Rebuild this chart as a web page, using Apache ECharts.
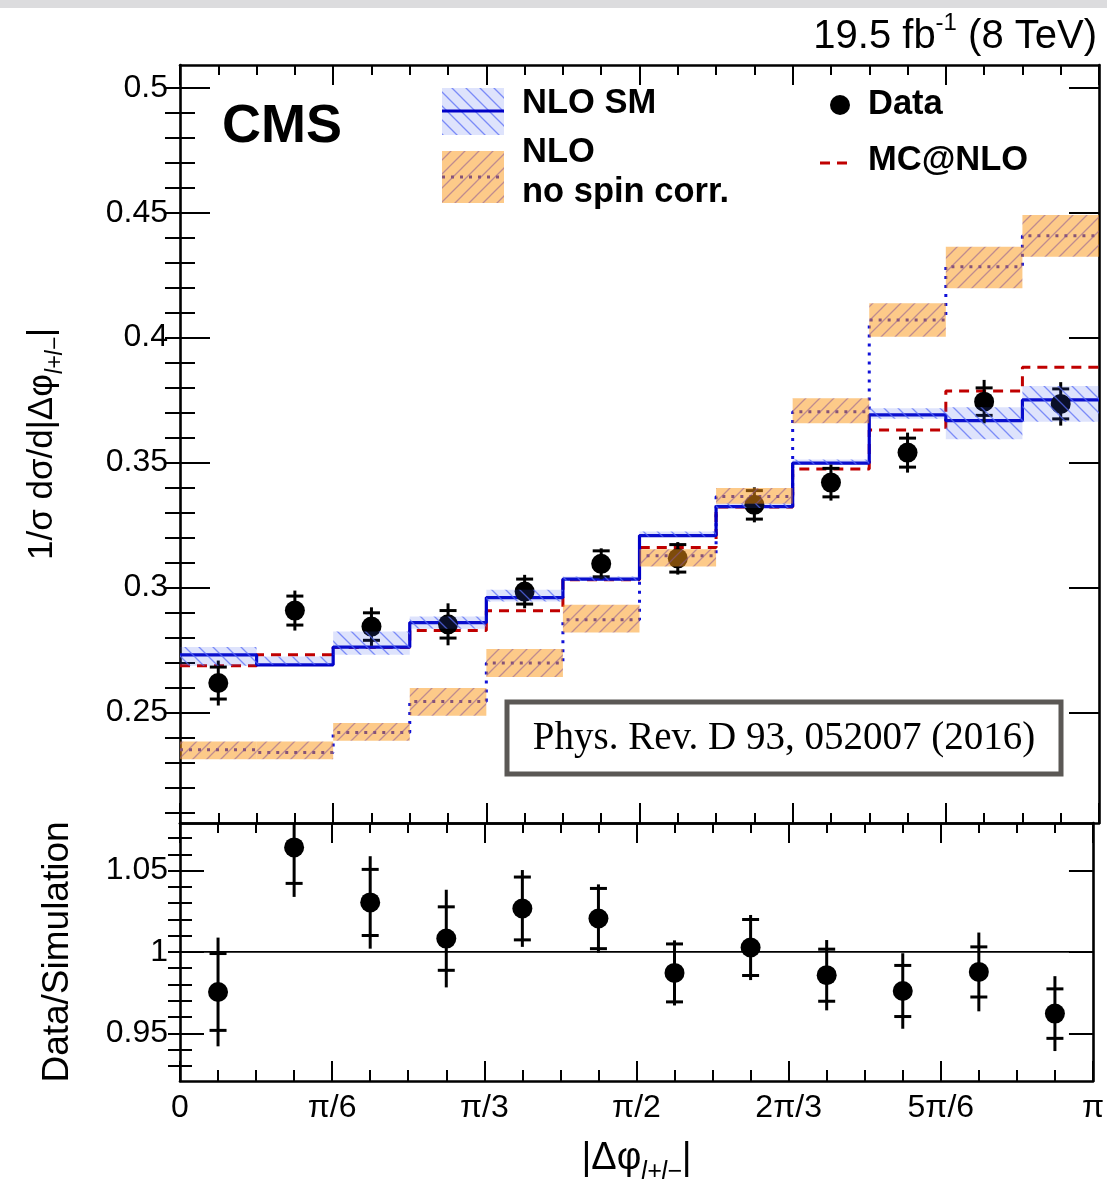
<!DOCTYPE html>
<html><head><meta charset="utf-8">
<script src="https://cdn.jsdelivr.net/npm/echarts@6/dist/echarts.min.js"></script>
<style>html,body{margin:0;padding:0;background:#fff}#c{width:1107px;height:1191px}</style>
</head><body><div id="c"></div>
<script>
const PI = Math.PI;
// bin edges of |Δφ|
const binEdges = [0, PI/12, PI/6, PI/4, PI/3, 5*PI/12, PI/2, 7*PI/12, 2*PI/3, 3*PI/4, 5*PI/6, 11*PI/12, PI];
const xTickLabels = ['0', 'π/6', 'π/3', 'π/2', '2π/3', '5π/6', 'π'];
const yTopTickLabels = ['0.25', '0.3', '0.35', '0.4', '0.45', '0.5'];
const yRatioTickLabels = ['0.95', '1', '1.05'];

// NLO SM (with band)
const nloSM   = [0.2731, 0.2691, 0.2762, 0.2860, 0.2960, 0.3034, 0.3208, 0.3324, 0.3498, 0.3691, 0.3668, 0.3751];
const nloSMLo = [0.2687, 0.2691, 0.2731, 0.2835, 0.2944, 0.3026, 0.3203, 0.3318, 0.3492, 0.3676, 0.3594, 0.3664];
const nloSMHi = [0.2762, 0.2724, 0.2824, 0.2884, 0.2991, 0.3044, 0.3224, 0.3336, 0.3512, 0.3718, 0.3722, 0.3807];
// NLO no spin correlation (with band)
const noSpin   = [0.2351, 0.2340, 0.2420, 0.2544, 0.2698, 0.2871, 0.3127, 0.3364, 0.3704, 0.4071, 0.4284, 0.4408];
const noSpinLo = [0.2313, 0.2313, 0.2387, 0.2487, 0.2642, 0.2820, 0.3084, 0.3335, 0.3658, 0.4004, 0.4198, 0.4324];
const noSpinHi = [0.2384, 0.2384, 0.2458, 0.2598, 0.2754, 0.2931, 0.3153, 0.3398, 0.3758, 0.4138, 0.4364, 0.4491];
// MC@NLO
const mcnlo = [0.2687, 0.2731, 0.2760, 0.2828, 0.2907, 0.3031, 0.3160, 0.3322, 0.3474, 0.3631, 0.3787, 0.3882];
// Data
const dataVal  = [0.2618, 0.2908, 0.2844, 0.2853, 0.2984, 0.3095, 0.3117, 0.3331, 0.3420, 0.3540, 0.3744, 0.3735];
const dataStat = [0.0064, 0.0058, 0.0055, 0.0055, 0.0050, 0.0052, 0.0055, 0.0057, 0.0057, 0.0058, 0.0055, 0.0060];
const dataTot  = [0.0090, 0.0080, 0.0077, 0.0084, 0.0067, 0.0062, 0.0065, 0.0070, 0.0072, 0.0080, 0.0087, 0.0087];
// Data / Simulation
const ratioVal  = [0.9754, 1.0642, 1.0304, 1.0082, 1.0267, 1.0205, 0.9871, 1.0027, 0.9857, 0.9760, 0.9877, 0.9621];
const ratioStat = [0.0236, 0.0221, 0.0203, 0.0195, 0.0193, 0.0185, 0.0178, 0.0172, 0.0160, 0.0157, 0.0154, 0.0152];
const ratioTot  = [0.0334, 0.0304, 0.0284, 0.0300, 0.0236, 0.0210, 0.0200, 0.0200, 0.0216, 0.0232, 0.0242, 0.0230];

const FONT = '"Liberation Sans", Arial, Helvetica, sans-serif';

function hatch(bg, line, dir, s) {
  const c = document.createElement('canvas');
  c.width = s; c.height = s;
  const g = c.getContext('2d');
  g.fillStyle = bg; g.fillRect(0, 0, s, s);
  g.strokeStyle = line; g.lineWidth = 1.3;
  g.beginPath();
  if (dir === '/') {
    g.moveTo(-2, s + 2); g.lineTo(s + 2, -2);
    g.moveTo(-2, 2); g.lineTo(2, -2);
    g.moveTo(s - 2, s + 2); g.lineTo(s + 2, s - 2);
  } else {
    g.moveTo(-2, -2); g.lineTo(s + 2, s + 2);
    g.moveTo(s - 2, -2); g.lineTo(s + 2, 2);
    g.moveTo(-2, s - 2); g.lineTo(2, s + 2);
  }
  g.stroke();
  return { image: c, repeat: 'repeat' };
}
const bluePat = hatch('rgba(60,90,240,0.17)', 'rgba(90,110,245,0.75)', '\\', 14);
const orangePat = hatch('rgba(252,150,20,0.5)', 'rgba(140,90,150,0.55)', '/', 14);

const centers = dataVal.map((_, i) => (binEdges[i] + binEdges[i + 1]) / 2);
function stepData(vals) {
  const d = vals.map((v, i) => [binEdges[i], v]);
  d.push([binEdges[vals.length], vals[vals.length - 1]]);
  return d;
}
function bandData(lo, hi) { return lo.map((l, i) => [binEdges[i], binEdges[i + 1], l, hi[i]]); }
function errData(v, st, tot) { return v.map((x, i) => [centers[i], x, x - st[i], x + st[i], x - tot[i], x + tot[i]]); }

function renderBand(pattern) {
  return function (params, api) {
    const p0 = api.coord([api.value(0), api.value(3)]);
    const p1 = api.coord([api.value(1), api.value(2)]);
    return { type: 'rect', shape: { x: p0[0], y: p0[1], width: p1[0] - p0[0], height: p1[1] - p0[1] },
      style: { fill: pattern } };
  };
}
function renderErr(params, api) {
  const x = api.value(0);
  const a = api.coord([x, api.value(4)]), b = api.coord([x, api.value(5)]);
  const sl = api.coord([x, api.value(2)]), sh = api.coord([x, api.value(3)]);
  const w = 8.5, st = { stroke: '#000', lineWidth: 3 };
  return { type: 'group', children: [
    { type: 'line', shape: { x1: a[0], y1: a[1], x2: b[0], y2: b[1] }, style: st },
    { type: 'line', shape: { x1: sl[0] - w, y1: sl[1], x2: sl[0] + w, y2: sl[1] }, style: st },
    { type: 'line', shape: { x1: sh[0] - w, y1: sh[1], x2: sh[0] + w, y2: sh[1] }, style: st }
  ] };
}

const xMajor = xTickLabels.map((_, k) => k * PI / 6);
const xMinor = []; for (let k = 0; k <= 24; k++) xMinor.push(k * PI / 24);
const yTopMajor = yTopTickLabels.map(parseFloat);
const yTopMinor = []; for (let k = 21; k <= 50; k++) yTopMinor.push(k / 100);
const yRatMajor = yRatioTickLabels.map(parseFloat);
const yRatMinor = []; for (let k = 93; k <= 107; k++) yRatMinor.push(k / 100);

const axLine = { show: true, onZero: false, lineStyle: { color: '#000', width: 2.6 } };
function xAx(grid, pos, ticks, len, line, labels, extra) {
  return Object.assign({
    type: 'value', gridIndex: grid, position: pos, min: 0, max: PI,
    axisLine: line ? axLine : { show: false },
    axisTick: { show: true, inside: true, length: len, customValues: ticks, lineStyle: { color: '#000', width: 2 } },
    axisLabel: labels ? { show: true, customValues: xMajor, margin: 11, color: '#000', fontSize: 32, fontFamily: FONT,
      showMinLabel: true, showMaxLabel: true,
      formatter: v => xTickLabels[Math.round(v / (PI / 6))] } : { show: false },
    splitLine: { show: false }
  }, extra || {});
}
function yAx(grid, pos, min, max, ticks, len, line, labVals, labTexts, extra) {
  return Object.assign({
    type: 'value', gridIndex: grid, position: pos, min: min, max: max,
    axisLine: line ? axLine : { show: false },
    axisTick: { show: true, inside: true, length: len, customValues: ticks, lineStyle: { color: '#000', width: 2 } },
    axisLabel: labVals ? { show: true, customValues: labVals, margin: 12, color: '#000', fontSize: 32, fontFamily: FONT,
      showMinLabel: true, showMaxLabel: true,
      formatter: v => { const i = labVals.findIndex(q => Math.abs(q - v) < 1e-6); return i >= 0 ? labTexts[i] : ''; } } : { show: false },
    splitLine: { show: false }
  }, extra || {});
}

const yTopMin = 0.2058, yTopMax = 0.5091, yRatMin = 0.9207, yRatMax = 1.0792;
const subRichY = {
  a: { fontSize: 35, fontFamily: FONT, color: '#000', lineHeight: 50 },
  s: { fontSize: 23, fontFamily: FONT, fontStyle: 'italic', color: '#000', lineHeight: 50, verticalAlign: 'bottom' }
};
const subRichX = {
  a: { fontSize: 38, fontFamily: FONT, color: '#000', lineHeight: 52 },
  s: { fontSize: 25, fontFamily: FONT, fontStyle: 'italic', color: '#000', lineHeight: 52, verticalAlign: 'bottom' }
};

const option = {
  animation: false,
  backgroundColor: '#fff',
  grid: [
    { left: 180, top: 65, width: 919, height: 758 },
    { left: 180, top: 823, width: 919, height: 258 }
  ],
  xAxis: [
    xAx(0, 'bottom', xMajor, 20, true, false),
    xAx(0, 'bottom', xMinor, 10, false, false),
    xAx(0, 'top', xMajor, 20, true, false),
    xAx(0, 'top', xMinor, 10, false, false),
    xAx(1, 'bottom', xMajor, 20, true, true, {
      name: '{a||Δφ}{s|l+l−}{a||}', nameLocation: 'middle', nameGap: 52,
      nameTextStyle: { rich: subRichX } }),
    xAx(1, 'bottom', xMinor, 11, false, false),
    xAx(1, 'top', xMajor, 20, true, false),
    xAx(1, 'top', xMinor, 10, false, false)
  ],
  yAxis: [
    yAx(0, 'left', yTopMin, yTopMax, yTopMajor, 30, true, yTopMajor, yTopTickLabels, {
      name: '{a|1/σ dσ/d|Δφ}{s|l+l−}{a||}', nameLocation: 'middle', nameRotate: 90, nameGap: 113,
      nameTextStyle: { rich: subRichY } }),
    yAx(0, 'left', yTopMin, yTopMax, yTopMinor, 15, false),
    yAx(0, 'right', yTopMin, yTopMax, yTopMajor, 30, true),
    yAx(0, 'right', yTopMin, yTopMax, yTopMinor, 15, false),
    yAx(1, 'left', yRatMin, yRatMax, yRatMajor, 24, true, yRatMajor, yRatioTickLabels, {
      name: 'Data/Simulation', nameLocation: 'middle', nameRotate: 90, nameGap: 104,
      nameTextStyle: { fontSize: 37, fontFamily: FONT, color: '#000' } }),
    yAx(1, 'left', yRatMin, yRatMax, yRatMinor, 12, false),
    yAx(1, 'right', yRatMin, yRatMax, yRatMajor, 24, true),
    yAx(1, 'right', yRatMin, yRatMax, yRatMinor, 12, false)
  ],
  series: [
    { name: 'NLO no spin corr. line', type: 'line', xAxisIndex: 0, yAxisIndex: 0, step: 'end', symbol: 'none',
      data: stepData(noSpin), lineStyle: { color: '#1010d8', width: 3, type: [3, 6] }, z: 2 },
    { name: 'MC@NLO', type: 'line', xAxisIndex: 0, yAxisIndex: 0, step: 'end', symbol: 'none',
      data: stepData(mcnlo), lineStyle: { color: '#c00000', width: 3, type: [10, 7] }, z: 3 },
    { name: 'NLO SM', type: 'line', xAxisIndex: 0, yAxisIndex: 0, step: 'end', symbol: 'none',
      data: stepData(nloSM), lineStyle: { color: '#0000c8', width: 3.2 }, z: 4 },
    { name: 'Data err', type: 'custom', xAxisIndex: 0, yAxisIndex: 0, renderItem: renderErr,
      data: errData(dataVal, dataStat, dataTot), encode: { x: 0, y: [1, 4, 5] }, z: 5 },
    { name: 'Data', type: 'scatter', xAxisIndex: 0, yAxisIndex: 0, symbol: 'circle', symbolSize: 20,
      data: dataVal.map((v, i) => [centers[i], v]), itemStyle: { color: '#000', opacity: 1 }, z: 6 },
    { name: 'NLO no spin corr.', type: 'custom', xAxisIndex: 0, yAxisIndex: 0, renderItem: renderBand(orangePat),
      data: bandData(noSpinLo, noSpinHi), encode: { x: [0, 1], y: [2, 3] }, z: 7 },
    { name: 'NLO SM band', type: 'custom', xAxisIndex: 0, yAxisIndex: 0, renderItem: renderBand(bluePat),
      data: bandData(nloSMLo, nloSMHi), encode: { x: [0, 1], y: [2, 3] }, z: 8 },
    { name: 'unity', type: 'line', xAxisIndex: 4, yAxisIndex: 4, symbol: 'none',
      data: [[0, 1], [PI, 1]], lineStyle: { color: '#000', width: 1.6 }, z: 2 },
    { name: 'Ratio err', type: 'custom', xAxisIndex: 4, yAxisIndex: 4, renderItem: renderErr, clip: true,
      data: errData(ratioVal, ratioStat, ratioTot), encode: { x: 0, y: [1, 4, 5] }, z: 5 },
    { name: 'Ratio', type: 'scatter', xAxisIndex: 4, yAxisIndex: 4, symbol: 'circle', symbolSize: 20,
      data: ratioVal.map((v, i) => [centers[i], v]), itemStyle: { color: '#000', opacity: 1 }, z: 6 }
  ],
  graphic: [
    { type: 'rect', shape: { x: 0, y: 0, width: 1107, height: 8 }, style: { fill: '#dcdcde' }, silent: true },
    { type: 'text', x: 1097, y: 34, style: {
        text: '{a|19.5 fb}{b|-1}{a| (8 TeV)}', align: 'right', verticalAlign: 'middle',
        rich: { a: { fontSize: 40, fontFamily: FONT, fill: '#000', lineHeight: 46, verticalAlign: 'bottom' },
                b: { fontSize: 24, fontFamily: FONT, fill: '#000', lineHeight: 46, verticalAlign: 'top' } } } },
    { type: 'text', x: 222, y: 127, style: { text: 'CMS', font: 'bold 54px ' + FONT, fill: '#000', align: 'left', verticalAlign: 'middle' } },
    // legend: NLO SM
    { type: 'rect', shape: { x: 442, y: 88, width: 62, height: 47 }, style: { fill: bluePat } },
    { type: 'line', shape: { x1: 442, y1: 111, x2: 504, y2: 111 }, style: { stroke: '#0000c8', lineWidth: 3.2 } },
    { type: 'text', x: 522, y: 103, style: { text: 'NLO SM', font: 'bold 34.5px ' + FONT, fill: '#000', verticalAlign: 'middle' } },
    // legend: NLO no spin corr
    { type: 'line', shape: { x1: 442, y1: 177, x2: 504, y2: 177 }, style: { stroke: '#1010d8', lineWidth: 3, lineDash: [3, 6] } },
    { type: 'rect', shape: { x: 442, y: 151, width: 62, height: 52 }, style: { fill: orangePat } },
    { type: 'text', x: 522, y: 152, style: { text: 'NLO', font: 'bold 34.5px ' + FONT, fill: '#000', verticalAlign: 'middle' } },
    { type: 'text', x: 522, y: 192, style: { text: 'no spin corr.', font: 'bold 34.5px ' + FONT, fill: '#000', verticalAlign: 'middle' } },
    // legend: Data
    { type: 'circle', shape: { cx: 840, cy: 105, r: 10 }, style: { fill: '#000' } },
    { type: 'text', x: 868, y: 104, style: { text: 'Data', font: 'bold 34.5px ' + FONT, fill: '#000', verticalAlign: 'middle' } },
    // legend: MC@NLO
    { type: 'line', shape: { x1: 820, y1: 163, x2: 853, y2: 163 }, style: { stroke: '#c00000', lineWidth: 3, lineDash: [10, 7] } },
    { type: 'text', x: 868, y: 160, style: { text: 'MC@NLO', font: 'bold 34.5px ' + FONT, fill: '#000', verticalAlign: 'middle' } },
    // reference box
    { type: 'rect', shape: { x: 507, y: 702, width: 554, height: 72 }, style: { fill: '#fff', stroke: '#5b5855', lineWidth: 5 }, z: 100 },
    { type: 'text', x: 784, y: 739, z: 101, style: { text: 'Phys. Rev. D 93, 052007 (2016)', font: '39px "Liberation Serif", "Times New Roman", serif',
        fill: '#000', align: 'center', verticalAlign: 'middle' } }
  ]
};
const chart = echarts.init(document.getElementById('c'), null, { renderer: 'canvas' });
chart.setOption(option);
</script>
</body></html>
